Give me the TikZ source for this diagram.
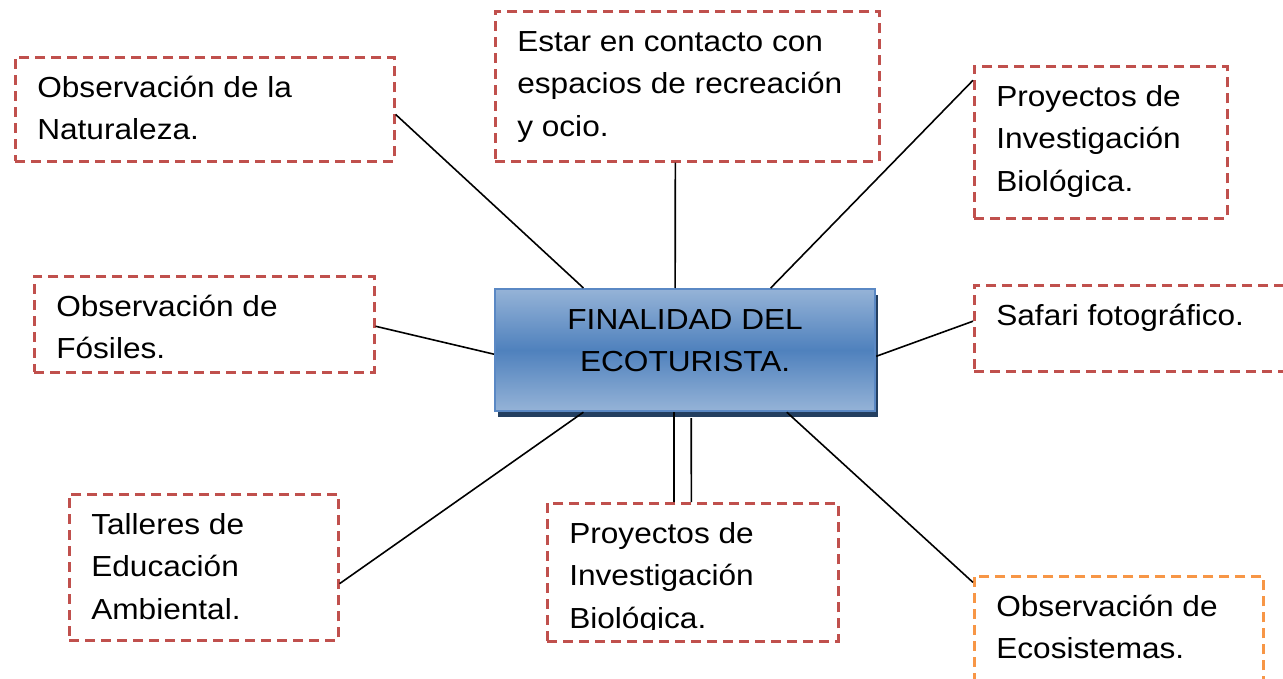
\documentclass[tikz,border=0pt]{standalone}
\usepackage{fontspec}
\setmainfont{Liberation Sans}[FakeStretch=1.09]
\usetikzlibrary{calc,shadows}
\definecolor{dashred}{HTML}{C0504D}
\definecolor{dashorange}{HTML}{F79646}
\definecolor{boxlight}{HTML}{95B3D7}
\definecolor{boxmid}{HTML}{4F81BD}
\definecolor{boxedge}{HTML}{5A88C4}
\definecolor{boxshadow}{HTML}{243F60}
\newcommand{\lefttext}[3]{\parbox[c][#2][t]{#1}{\raggedright\leftskip=22pt\relax\rule{0pt}{40pt}#3}}
\newcommand{\centtext}[3]{\parbox[c][#2][t]{#1}{\centering\rule{0pt}{40pt}#3}}
\begin{document}
\begin{tikzpicture}[x=1pt,y=-1pt,
  font=\fontsize{29}{42.5}\selectfont,
  idea/.style={draw=dashred, line width=2.6pt, dash pattern=on 10pt off 6pt, inner sep=0pt, anchor=north west},
  ideaorange/.style={idea, draw=dashorange},
  hub/.style={draw=boxedge, line width=2.2pt, inner sep=0pt, anchor=north west,
    top color=boxlight, bottom color=boxlight, middle color=boxmid,
    drop shadow={shadow xshift=3pt, shadow yshift=-6pt, fill=boxshadow, opacity=1}},
  link/.style={draw=black, line width=1.6pt}]
\clip (0,0) rectangle (1283,679);

\node[idea] (nat) at (14,56) {\lefttext{379pt}{104pt}{Observación de la\\Naturaleza.}};
\node[idea] (rec) at (494,10) {\lefttext{384pt}{150pt}{Estar en contacto con\\espacios de recreación\\y ocio.}};
\node[idea] (pinv) at (973,65) {\lefttext{253pt}{152pt}{Proyectos de\\Investigación\\Biológica.}};
\node[idea] (fos) at (33,275) {\lefttext{340pt}{96pt}{Observación de\\Fósiles.}};
\node[idea] (saf) at (973,284) {\lefttext{320pt}{86pt}{Safari fotográfico.}};
\node[idea] (tal) at (68,493) {\lefttext{269pt}{146pt}{Talleres de\\Educación\\Ambiental.}};
\node[idea] (pinvb) at (546,502) {\lefttext{291pt}{138pt}{Proyectos de\\Investigación\\Biológica.}};
\fill[white] (549,629.5) rectangle (834,637.4);
\node[ideaorange] (eco) at (973,575) {\lefttext{289pt}{125pt}{Observación de\\Ecosistemas.}};

\node[hub] (hub) at (494,288) {\centtext{380pt}{122pt}{FINALIDAD DEL\\ECOTURISTA.}};

\draw[link] ($(nat.north east)!0.548!(nat.south east)$) -- ($(hub.north west)!0.234!(hub.north east)$);
\draw[link] ($(rec.south west)!0.469!(rec.south east)$) -- ($(hub.north west)!0.474!(hub.north east)$);
\draw[link] ($(pinv.north west)!0.099!(pinv.south west)$) -- ($(hub.north west)!0.724!(hub.north east)$);
\draw[link] ($(fos.north east)!0.52!(fos.south east)$) -- ($(hub.north west)!0.533!(hub.south west)$);
\draw[link] ($(saf.north west)!0.42!(saf.south west)$) -- ($(hub.north east)!0.55!(hub.south east)$);
\draw[link] ($(tal.north east)!0.61!(tal.south east)$) -- ($(hub.south west)!0.234!(hub.south east)$);
\draw[link] ($(hub.south west)!0.471!(hub.south east)$) -- ($(pinvb.north west)!0.436!(pinvb.north east)$);
\draw[link] ($(hub.south west)!0.516!(hub.south east)+(0,6)$) -- ($(pinvb.north west)!0.495!(pinvb.north east)$);
\draw[link] ($(hub.south west)!0.766!(hub.south east)$) -- ($(eco.north west)!0.058!(eco.south west)$);
\end{tikzpicture}
\end{document}
